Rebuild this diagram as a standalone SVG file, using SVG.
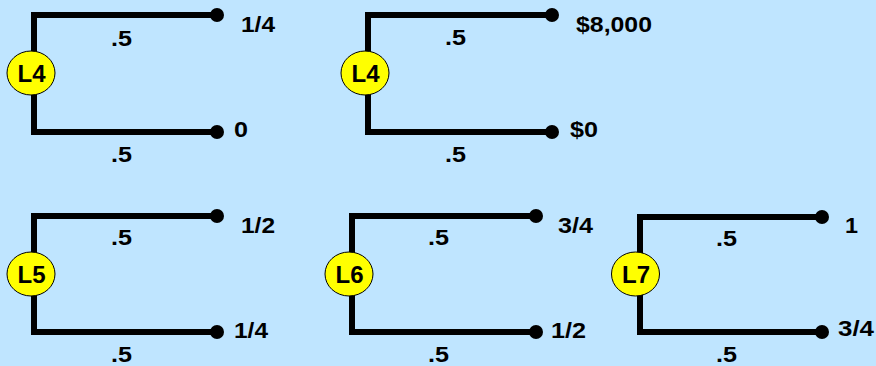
<svg xmlns="http://www.w3.org/2000/svg" width="876" height="366" viewBox="0 0 876 366">
<style>
.bg{fill:#BFE5FF}
.br{fill:none;stroke:#000;stroke-width:6;stroke-linejoin:miter}
.nd{fill:#FFFF00;stroke:#000;stroke-width:1}
.nt{font-family:"Liberation Sans",Arial,sans-serif;font-weight:bold;font-size:24px;text-anchor:middle;fill:#000}
.t{font-family:"Liberation Sans",Arial,sans-serif;font-weight:bold;font-size:22px;fill:#000}
</style>
<defs>
<marker id="dot" viewBox="-8 -8 16 16" markerWidth="16" markerHeight="16" markerUnits="userSpaceOnUse" refX="0" refY="0" orient="auto">
<circle cx="0" cy="0" r="7" fill="#000"/>
</marker>
</defs>
<rect class="bg" x="0" y="0" width="876" height="366"/>
<g id="connectors">
<path class="br" d="M34,60 V15 H217" marker-end="url(#dot)"/>
<path class="br" d="M34,86 V132 H217" marker-end="url(#dot)"/>
<path class="br" d="M368,60 V15 H552" marker-end="url(#dot)"/>
<path class="br" d="M368,86 V132 H552" marker-end="url(#dot)"/>
<path class="br" d="M34,262 V216 H217" marker-end="url(#dot)"/>
<path class="br" d="M34,286 V332 H217" marker-end="url(#dot)"/>
<path class="br" d="M352,262 V216 H536" marker-end="url(#dot)"/>
<path class="br" d="M352,286 V332 H536" marker-end="url(#dot)"/>
<path class="br" d="M640,262 V217 H822" marker-end="url(#dot)"/>
<path class="br" d="M640,286 V332 H822" marker-end="url(#dot)"/>
</g>
<g id="labels">
<text class="t" x="111" y="46" textLength="21" lengthAdjust="spacingAndGlyphs">.5</text>
<text class="t" x="111" y="162" textLength="21" lengthAdjust="spacingAndGlyphs">.5</text>
<text class="t" x="241" y="32" textLength="34" lengthAdjust="spacingAndGlyphs">1/4</text>
<text class="t" x="234" y="137" textLength="14" lengthAdjust="spacingAndGlyphs">0</text>
<text class="t" x="445" y="45" textLength="21" lengthAdjust="spacingAndGlyphs">.5</text>
<text class="t" x="445" y="162" textLength="21" lengthAdjust="spacingAndGlyphs">.5</text>
<text class="t" x="576" y="32" textLength="76" lengthAdjust="spacingAndGlyphs">$8,000</text>
<text class="t" x="570" y="137" textLength="28" lengthAdjust="spacingAndGlyphs">$0</text>
<text class="t" x="111" y="245" textLength="21" lengthAdjust="spacingAndGlyphs">.5</text>
<text class="t" x="111" y="362" textLength="21" lengthAdjust="spacingAndGlyphs">.5</text>
<text class="t" x="241" y="233" textLength="34" lengthAdjust="spacingAndGlyphs">1/2</text>
<text class="t" x="234" y="338" textLength="34" lengthAdjust="spacingAndGlyphs">1/4</text>
<text class="t" x="428" y="245" textLength="21" lengthAdjust="spacingAndGlyphs">.5</text>
<text class="t" x="428" y="362" textLength="21" lengthAdjust="spacingAndGlyphs">.5</text>
<text class="t" x="558" y="233" textLength="35" lengthAdjust="spacingAndGlyphs">3/4</text>
<text class="t" x="551" y="338" textLength="35" lengthAdjust="spacingAndGlyphs">1/2</text>
<text class="t" x="716" y="246" textLength="21" lengthAdjust="spacingAndGlyphs">.5</text>
<text class="t" x="716" y="362" textLength="21" lengthAdjust="spacingAndGlyphs">.5</text>
<text class="t" x="845" y="233" textLength="13" lengthAdjust="spacingAndGlyphs">1</text>
<text class="t" x="838" y="336" textLength="36" lengthAdjust="spacingAndGlyphs">3/4</text>
</g>
<g id="L4a"><ellipse class="nd" cx="31" cy="73" rx="24" ry="22"/><text class="nt" x="31.5" y="82">L4</text></g>
<g id="L4b"><ellipse class="nd" cx="365" cy="73" rx="24" ry="22"/><text class="nt" x="365.5" y="82">L4</text></g>
<g id="L5"><ellipse class="nd" cx="31" cy="274" rx="24" ry="22"/><text class="nt" x="31.5" y="283">L5</text></g>
<g id="L6"><ellipse class="nd" cx="349" cy="274" rx="24" ry="22"/><text class="nt" x="349.5" y="283">L6</text></g>
<g id="L7"><ellipse class="nd" cx="635.5" cy="274" rx="24" ry="22"/><text class="nt" x="636" y="283">L7</text></g>
</svg>
